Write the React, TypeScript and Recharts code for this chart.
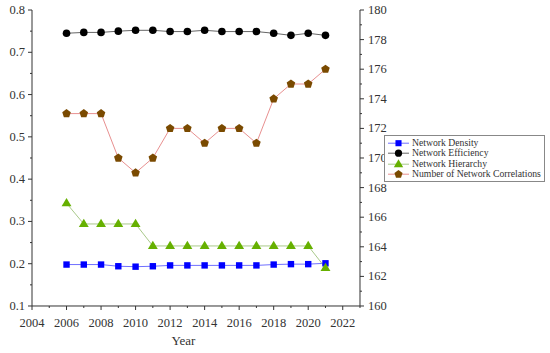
import { LineChart, Line, XAxis, YAxis } from "recharts";

const years = [2006, 2007, 2008, 2009, 2010, 2011, 2012, 2013, 2014, 2015, 2016, 2017, 2018, 2019, 2020, 2021];
const density = [0.198, 0.198, 0.198, 0.194, 0.193, 0.194, 0.196, 0.196, 0.196, 0.196, 0.196, 0.196, 0.198, 0.199, 0.199, 0.201];
const efficiency = [0.745, 0.747, 0.747, 0.75, 0.752, 0.752, 0.749, 0.749, 0.752, 0.749, 0.749, 0.749, 0.745, 0.74, 0.745, 0.74];
const hierarchy = [0.343, 0.294, 0.294, 0.294, 0.294, 0.242, 0.242, 0.242, 0.242, 0.242, 0.242, 0.242, 0.242, 0.242, 0.242, 0.19];
const correlations = [173, 173, 173, 170, 169, 170, 172, 172, 171, 172, 172, 171, 174, 175, 175, 176];

const xTicks = [2004, 2005, 2006, 2007, 2008, 2009, 2010, 2011, 2012, 2013, 2014, 2015, 2016, 2017, 2018, 2019, 2020, 2021, 2022, 2023];
const leftTicks = [0.1, 0.15, 0.2, 0.25, 0.3, 0.35, 0.4, 0.45, 0.5, 0.55, 0.6, 0.65, 0.7, 0.75, 0.8];
const rightTicks = [160, 161, 162, 163, 164, 165, 166, 167, 168, 169, 170, 171, 172, 173, 174, 175, 176, 177, 178, 179, 180];

const data = years.map((year, i) => ({
    year,
    density: density[i],
    efficiency: efficiency[i],
    hierarchy: hierarchy[i],
    correlations: correlations[i],
}));

const FONT = "'Liberation Serif', 'Times New Roman', serif";
const AXIS = "#333";

const SERIES = [
    { key: "density", name: "Network Density", marker: "#0000ff", line: "#7070ff", shape: "square" },
    { key: "efficiency", name: "Network Efficiency", marker: "#000000", line: "#666666", shape: "circle" },
    { key: "hierarchy", name: "Network Hierarchy", marker: "#66b000", line: "#a9c98a", shape: "triangle" },
    { key: "correlations", name: "Number of Network Correlations", marker: "#7a4a00", line: "#e89090", shape: "pentagon" },
];

const Marker = ({ cx, cy, shape, fill, s = 1 }: any) => {
    if (cx == null || cy == null) return null;
    if (shape === "square") {
        const h = 3.2 * s;
        return <rect x={cx - h} y={cy - h} width={2 * h} height={2 * h} fill={fill} />;
    }
    if (shape === "circle") {
        return <circle cx={cx} cy={cy} r={3.8 * s} fill={fill} />;
    }
    if (shape === "triangle") {
        const r = 5.2 * s;
        return (
            <polygon
                points={`${cx},${cy - r} ${cx + r * 0.95},${cy + r * 0.6} ${cx - r * 0.95},${cy + r * 0.6}`}
                fill={fill}
            />
        );
    }
    const r = 4.5 * s;
    const pts = [0, 1, 2, 3, 4]
        .map((k) => {
            const a = ((-90 + 72 * k) * Math.PI) / 180;
            return `${cx + r * Math.cos(a)},${cy + r * Math.sin(a)}`;
        })
        .join(" ");
    return <polygon points={pts} fill={fill} />;
};

const LeftTick = ({ x, y, payload }: any) => {
    const v = payload.value;
    const major = Math.abs(v * 10 - Math.round(v * 10)) < 1e-6;
    return (
        <g>
            <line x1={x} x2={x - (major ? 4 : 2)} y1={y} y2={y} stroke={AXIS} strokeWidth={1} />
            {major && (
                <text x={x - 7} y={y} textAnchor="end" dominantBaseline="central" fontSize={12.5} fill="#333" fontFamily={FONT}>
                    {v.toFixed(1)}
                </text>
            )}
        </g>
    );
};

const RightTick = ({ x, y, payload }: any) => {
    const v = payload.value;
    const major = v % 2 === 0;
    return (
        <g>
            <line x1={x} x2={x + (major ? 4 : 2)} y1={y} y2={y} stroke={AXIS} strokeWidth={1} />
            {major && (
                <text x={x + 8} y={y} textAnchor="start" dominantBaseline="central" fontSize={12.5} fill="#333" fontFamily={FONT}>
                    {v}
                </text>
            )}
        </g>
    );
};

const BottomTick = ({ x, y, payload }: any) => {
    const v = payload.value;
    const major = v % 2 === 0;
    return (
        <g>
            <line x1={x} x2={x} y1={y} y2={y + (major ? 4 : 2)} stroke={AXIS} strokeWidth={1} />
            {major && (
                <text x={x} y={y + 17} textAnchor="middle" dominantBaseline="central" fontSize={12.5} fill="#333" fontFamily={FONT}>
                    {v}
                </text>
            )}
            {v === 2013 && (
                <text x={x - 4} y={y + 35} textAnchor="middle" dominantBaseline="central" fontSize={13} fill="#333" fontFamily={FONT}>
                    Year
                </text>
            )}
        </g>
    );
};

const LegendBox = () => (
    <div
        style={{
            position: "absolute",
            left: 384,
            top: 135,
            border: "1px solid #888",
            background: "#fff",
            padding: "2px 0 1px 2px",
            fontFamily: FONT,
            fontSize: 9.7,
            color: "#333",
            lineHeight: "10.4px",
            width: 157,
        }}
    >
        {SERIES.map((s) => (
            <div key={s.key} style={{ display: "flex", alignItems: "center", whiteSpace: "nowrap" }}>
                <svg width={23} height={10.4} style={{ flexShrink: 0 }}>
                    <line x1={1} x2={22} y1={5.2} y2={5.2} stroke={s.line} strokeWidth={1} />
                    <Marker cx={11.5} cy={5.2} shape={s.shape} fill={s.marker} s={0.95} />
                </svg>
                <span style={{ marginLeft: 2 }}>{s.name}</span>
            </div>
        ))}
    </div>
);

export default function App() {
    return (
        <div style={{ position: "absolute", left: 0, top: 0, width: 550, height: 353, background: "#fff" }}>
            <LineChart width={550} height={353} data={data} margin={{ top: 10, right: 190, bottom: 47, left: 32 }}>
                <XAxis
                    dataKey="year"
                    type="number"
                    domain={[2004, 2023]}
                    ticks={xTicks}
                    interval={0}
                    height={0.001}
                    tickSize={0}
                    tickMargin={0}
                    tickLine={false}
                    axisLine={{ stroke: AXIS, strokeWidth: 1 }}
                    tick={<BottomTick />}
                    allowDataOverflow
                />
                <YAxis
                    yAxisId="left"
                    orientation="left"
                    domain={[0.1, 0.8]}
                    ticks={leftTicks}
                    interval={0}
                    width={0.001}
                    tickSize={0}
                    tickMargin={0}
                    tickLine={false}
                    axisLine={{ stroke: AXIS, strokeWidth: 1 }}
                    tick={<LeftTick />}
                    allowDataOverflow
                />
                <YAxis
                    yAxisId="right"
                    orientation="right"
                    domain={[160, 180]}
                    ticks={rightTicks}
                    interval={0}
                    width={0.001}
                    tickSize={0}
                    tickMargin={0}
                    tickLine={false}
                    axisLine={{ stroke: AXIS, strokeWidth: 1 }}
                    tick={<RightTick />}
                    allowDataOverflow
                />
                {SERIES.map((s) => (
                    <Line
                        key={s.key}
                        yAxisId={s.key === "correlations" ? "right" : "left"}
                        dataKey={s.key}
                        name={s.name}
                        stroke={s.line}
                        strokeWidth={1}
                        isAnimationActive={false}
                        dot={(p: any) => <Marker key={`${s.key}-${p.index}`} cx={p.cx} cy={p.cy} shape={s.shape} fill={s.marker} />}
                        activeDot={false}
                    />
                ))}
            </LineChart>
            <LegendBox />
        </div>
    );
}
